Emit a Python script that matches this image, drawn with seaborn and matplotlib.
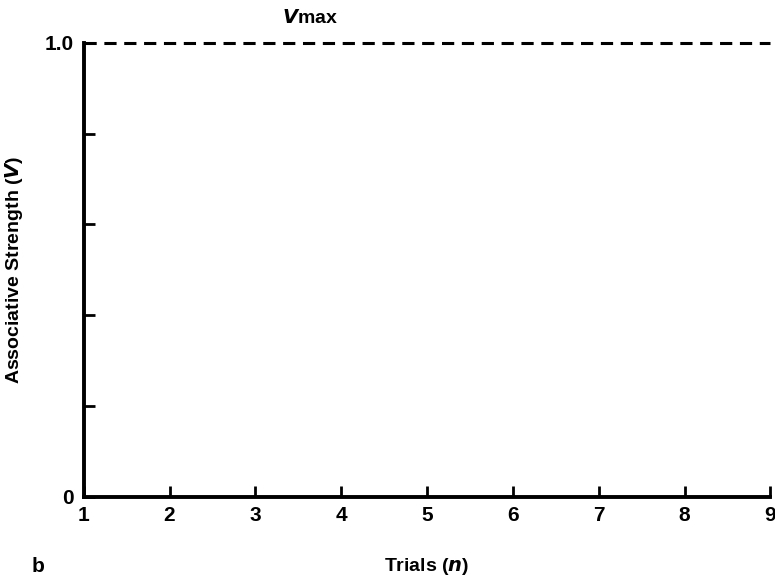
import numpy as np
import pandas as pd
import matplotlib
matplotlib.use("Agg")
import matplotlib.pyplot as plt
import seaborn as sns

# data
trials = [1, 2, 3, 4, 5, 6, 7, 8, 9]
vmax = [1.0] * len(trials)
ytick_pos = [0, 0.2, 0.4, 0.6, 0.8, 1.0]
ytick_lab = ["0", "", "", "", "", "1.0"]

sns.set_style("ticks", {"axes.edgecolor": "black", "text.color": "black",
                        "xtick.color": "black", "ytick.color": "black",
                        "axes.labelcolor": "black"})
plt.rcParams["font.family"] = ["Liberation Sans", "DejaVu Sans"]
plt.rcParams["font.weight"] = "bold"

fig = plt.figure(figsize=(7.75, 5.81), dpi=100)
ax = fig.add_axes([0.108, 0.145, 0.886, 0.781])

df = pd.DataFrame({"trial": trials, "V": vmax})
sns.lineplot(data=df, x="trial", y="V", ax=ax, color="black", lw=2.2,
             linestyle=(0, (4, 2.5)), clip_on=False)

ax.set_xlim(1, 9)
ax.set_ylim(0, 1.0)
ax.set_xticks(trials)
ax.set_xticklabels([str(t) for t in trials], fontsize=15, fontweight="bold")
ax.set_yticks(ytick_pos)
ax.set_yticklabels(ytick_lab, fontsize=15, fontweight="bold")
ax.tick_params(direction="in", length=8, width=2, pad=7, colors="black")
for s in ["top", "right"]:
    ax.spines[s].set_visible(False)
for s in ["left", "bottom"]:
    ax.spines[s].set_linewidth(2.8)
    ax.spines[s].set_color("black")

ax.set_xlabel("Trials ($\\mathit{n}$)", fontsize=14, fontweight="bold", labelpad=22)
ax.set_ylabel("Associative Strength ($\\mathit{V}$)", fontsize=14, fontweight="bold", labelpad=14)
ax.text(0.33, 1.035, "$\\mathit{V}$max", transform=ax.transAxes, fontsize=14,
        fontweight="bold", ha="center", va="bottom")
fig.text(0.041, 0.015, "b", fontsize=15, fontweight="bold")

fig.savefig("out.png", dpi=100)
